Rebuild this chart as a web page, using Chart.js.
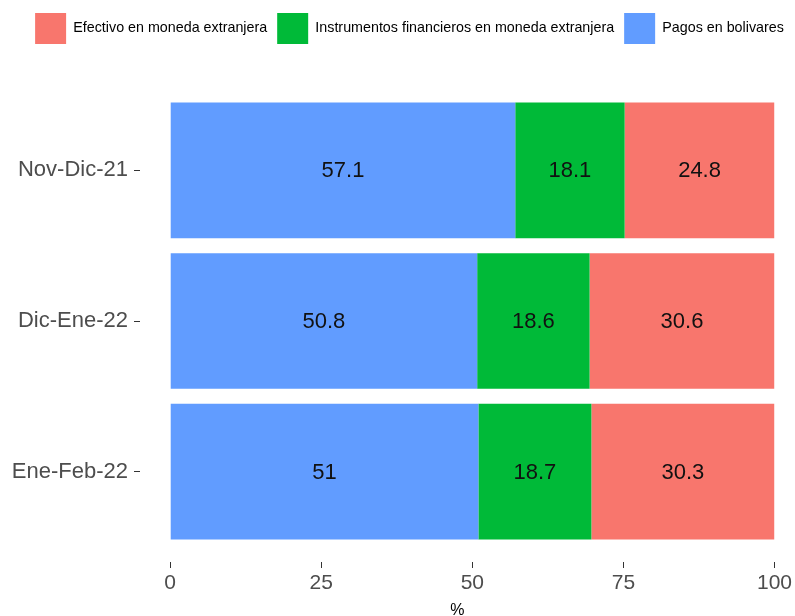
<!DOCTYPE html>
<html>
<head>
<meta charset="utf-8">
<script src="https://cdn.jsdelivr.net/npm/chart.js@4"></script>
<style>
  body { margin: 0; background: #fff; }
  #wrap { width: 795px; height: 616px; }
</style>
</head>
<body>
<div id="wrap"><canvas id="myChart" width="795" height="616"></canvas></div>
<script>
let categories = ["Nov-Dic-21", "Dic-Ene-22", "Ene-Feb-22"];
let pagos = [57.1, 50.8, 51];
let instrumentos = [18.1, 18.6, 18.7];
let efectivo = [24.8, 30.6, 30.3];
let xTicks = [0, 25, 50, 75, 100];

let fam = "'Liberation Sans', Arial, sans-serif";

function pts(arr) {
  return arr.map((v, i) => ({ x: v, y: i }));
}

// etiquetas dentro de las barras
let barLabels = {
  id: "barLabels",
  afterDatasetsDraw(chart) {
    let ctx = chart.ctx;
    ctx.save();
    ctx.font = "22px " + fam;
    ctx.fillStyle = "#111";
    ctx.textAlign = "center";
    ctx.textBaseline = "middle";
    chart.data.datasets.forEach((ds, i) => {
      chart.getDatasetMeta(i).data.forEach((bar, j) => {
        ctx.fillText(String(ds.data[j].x), (bar.x + bar.base) / 2, bar.y + 1);
      });
    });
    ctx.restore();
  },
};

// espacio extra bajo la leyenda, y la leyenda un poco a la derecha
let legendGap = {
  id: "legendGap",
  beforeInit(chart) {
    let fit = chart.legend.fit;
    chart.legend.fit = function () {
      fit.bind(chart.legend)();
      this.height += 26;
    };
  },
  afterLayout(chart) {
    chart.legend.left += 22;
    chart.legend.right += 22;
  },
};

new Chart("myChart", {
  type: "bar",
  data: {
    datasets: [
      { label: "Pagos en bolivares", data: pts(pagos), backgroundColor: "#619CFF" },
      { label: "Instrumentos financieros en moneda extranjera", data: pts(instrumentos), backgroundColor: "#00BA38" },
      { label: "Efectivo en moneda extranjera", data: pts(efectivo), backgroundColor: "#F8766D" },
    ],
  },
  options: {
    responsive: false,
    animation: false,
    indexAxis: "y",
    layout: { padding: { top: 3, left: 0, right: 20, bottom: 0 } },
    datasets: { bar: { barPercentage: 0.9, categoryPercentage: 1 } },
    scales: {
      x: {
        type: "linear",
        stacked: true,
        min: -5,
        max: 100,
        afterBuildTicks: (ax) => { ax.ticks = xTicks.map((v) => ({ value: v })); },
        afterFit: (ax) => { ax.height = 54; },
        border: { display: false },
        grid: { drawOnChartArea: false, tickLength: 6, tickColor: "#333", lineWidth: 1 },
        ticks: { color: "#4d4d4d", font: { family: fam, size: 21 }, padding: 3, maxRotation: 0 },
        title: { display: true, text: "%", color: "#000", font: { family: fam, size: 16 }, padding: { top: 0, bottom: -4 } },
      },
      y: {
        type: "linear",
        stacked: true,
        reverse: true,
        offset: false,
        min: -0.6,
        max: 2.6,
        afterBuildTicks: (ax) => { ax.ticks = categories.map((c, i) => ({ value: i })); },
        afterFit: (ax) => { ax.width = 140; },
        border: { display: false },
        grid: { offset: false, drawOnChartArea: false, tickLength: 6, tickColor: "#333", lineWidth: 1 },
        ticks: {
          color: "#4d4d4d",
          font: { family: fam, size: 22 },
          padding: 6,
          callback: (v) => categories[v],
        },
      },
    },
    plugins: {
      legend: {
        position: "top",
        reverse: true,
        labels: {
          boxWidth: 31,
          boxHeight: 31,
          padding: 10,
          color: "#000",
          font: { family: fam, size: 14.3 },
        },
      },
      tooltip: { enabled: false },
    },
  },
  plugins: [barLabels, legendGap],
});
</script>
</body>
</html>
